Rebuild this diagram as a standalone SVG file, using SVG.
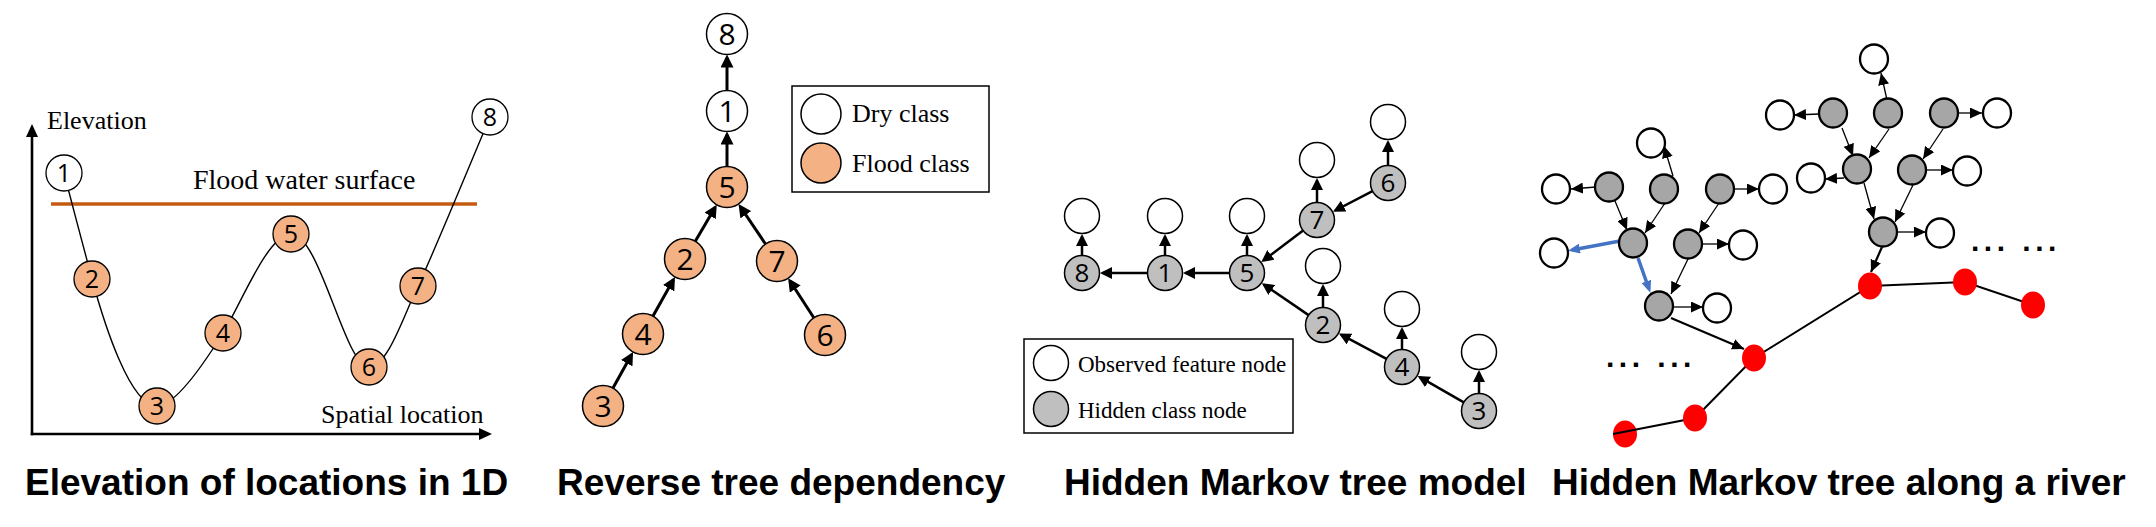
<svg xmlns="http://www.w3.org/2000/svg" width="2156" height="527" viewBox="0 0 2156 527">
<style>
.ser{font-family:"Liberation Serif","Times New Roman",serif;fill:#000}
.num{font-family:"Open Sans","Noto Sans","Liberation Sans",sans-serif;text-anchor:middle;fill:#000}
.title{font-family:"Liberation Sans",Arial,sans-serif;font-weight:bold;font-size:37px;fill:#000}
.o1{fill:#F4B183;stroke:#000;stroke-width:1.3}
.w1{fill:#fff;stroke:#000;stroke-width:1.3}
.o2{fill:#F4B183;stroke:#000;stroke-width:1.5}
.w2{fill:#fff;stroke:#000;stroke-width:1.5}
.g3{fill:#BFBFBF;stroke:#000;stroke-width:1.5}
.w3{fill:#fff;stroke:#000;stroke-width:1.5}
.g4{fill:#A6A6A6;stroke:#000;stroke-width:2.3}
.w4{fill:#fff;stroke:#000;stroke-width:2.3}
.red{fill:#FF0000}
.curve{fill:none;stroke:#000;stroke-width:1.4}
.axis{stroke:#000;stroke-width:2.6;marker-end:url(#ahx)}
.e2{stroke:#000;stroke-width:3;marker-end:url(#ah2)}
.e3{stroke:#000;stroke-width:2.5;marker-end:url(#ah3)}
.e4{stroke:#000;stroke-width:1.3;marker-end:url(#ah4)}
.e4t{stroke:#000;stroke-width:2.2;marker-end:url(#ah4)}
.eb{stroke:#4472C4;stroke-width:3.5;marker-end:url(#ahb)}
.river{fill:none;stroke:#000;stroke-width:2}
.dots{font-family:"Liberation Sans",Arial,sans-serif;font-weight:bold;font-size:30px;letter-spacing:4.5px;fill:#000}
</style>
<defs>
<marker id="ahx" markerUnits="userSpaceOnUse" markerWidth="13" markerHeight="12" refX="8" refY="6" orient="auto"><path d="M0,0 L13,6 L0,12 z" fill="#000"/></marker>
<marker id="ah2" markerUnits="userSpaceOnUse" markerWidth="13" markerHeight="13" refX="10" refY="6.5" orient="auto"><path d="M0,0 L13,6.5 L0,13 z" fill="#000"/></marker>
<marker id="ah3" markerUnits="userSpaceOnUse" markerWidth="12" markerHeight="12" refX="9.5" refY="6" orient="auto"><path d="M0,0 L12,6 L0,12 z" fill="#000"/></marker>
<marker id="ah4" markerUnits="userSpaceOnUse" markerWidth="12" markerHeight="11" refX="12" refY="5.5" orient="auto"><path d="M0,0 L12,5.5 L0,11 z" fill="#000"/></marker>
<marker id="ahb" markerUnits="userSpaceOnUse" markerWidth="12" markerHeight="10" refX="8" refY="5" orient="auto"><path d="M0,0 L12,5 L0,10 z" fill="#4472C4"/></marker>
</defs>
<rect width="2156" height="527" fill="#fff"/>

<!-- Panel 1 static shapes -->
<g id="p1-axes">
<line class="axis" x1="32" y1="435.3" x2="32" y2="129"/>
<line class="axis" x1="30.7" y1="434" x2="487" y2="434"/>
<line x1="51" y1="204" x2="477" y2="204" stroke="#C55A11" stroke-width="3.3"/>
<text class="ser" x="47" y="129" font-size="26">Elevation</text>
<text class="ser" x="193" y="189" font-size="28">Flood water surface</text>
<text class="ser" x="321" y="423" font-size="26">Spatial location</text>
</g>

<!-- Panel 4 node under river line -->
<g id="p4-r6"><ellipse class="red" cx="1625" cy="434" rx="12" ry="13.5"/></g>

<g id="connectors">
<path class="curve" d="M64,173 C73,208 83,245 92,279 C104,323 130,406 157,406 C176,406 205,362 223,333 C241,304 268,234 291,234 C320,234 345,367 369,367 C388,367 405,312 418,286 C432,257 476,150 490,117"/>
<line class="e2" x1="727" y1="90.5" x2="727" y2="57.5"/>
<line class="e2" x1="727" y1="166.5" x2="727" y2="134.5"/>
<line class="e2" x1="695.3" y1="241.3" x2="715.2" y2="207.3"/>
<line class="e2" x1="765.5" y1="244" x2="740.2" y2="206.5"/>
<line class="e2" x1="653" y1="316.1" x2="673.5" y2="279.5"/>
<line class="e2" x1="613" y1="388.1" x2="631.6" y2="354.5"/>
<line class="e2" x1="813.8" y1="317.8" x2="789.8" y2="280.7"/>
<line class="e3" x1="1082" y1="255.5" x2="1082" y2="236.5"/>
<line class="e3" x1="1165" y1="255.5" x2="1165" y2="236.5"/>
<line class="e3" x1="1247" y1="255.5" x2="1247" y2="236.5"/>
<line class="e3" x1="1317" y1="202.5" x2="1317" y2="180.5"/>
<line class="e3" x1="1388" y1="165.5" x2="1388" y2="142.5"/>
<line class="e3" x1="1323" y1="307.5" x2="1323" y2="286.5"/>
<line class="e3" x1="1402" y1="349.5" x2="1402" y2="329.5"/>
<line class="e3" x1="1479" y1="393.5" x2="1479" y2="372.5"/>
<line class="e3" x1="1147.5" y1="273" x2="1102.5" y2="273"/>
<line class="e3" x1="1229.5" y1="273" x2="1185.5" y2="273"/>
<line class="e3" x1="1303.1" y1="230.6" x2="1263.3" y2="260.6"/>
<line class="e3" x1="1372.5" y1="191.1" x2="1335.2" y2="210.5"/>
<line class="e3" x1="1308.6" y1="315.1" x2="1263.9" y2="284.6"/>
<line class="e3" x1="1386.5" y1="358.8" x2="1341.1" y2="334.6"/>
<line class="e3" x1="1463.8" y1="402.3" x2="1419.8" y2="377.2"/>
<line class="e4" x1="1596" y1="187" x2="1571" y2="189"/>
<line class="e4" x1="1673" y1="176" x2="1664" y2="146"/>
<line class="e4" x1="1734" y1="189" x2="1759" y2="189"/>
<line class="e4" x1="1615" y1="201" x2="1627" y2="230"/>
<line class="e4" x1="1665" y1="203" x2="1645" y2="233"/>
<line class="e4" x1="1719" y1="203" x2="1699" y2="233"/>
<line class="eb" x1="1620" y1="241" x2="1572" y2="250"/>
<line class="eb" x1="1638" y1="258" x2="1649" y2="289"/>
<line class="e4" x1="1688" y1="259" x2="1671" y2="294"/>
<line class="e4" x1="1702" y1="244" x2="1729" y2="244"/>
<line class="e4" x1="1673" y1="307" x2="1703" y2="307"/>
<line class="e4t" x1="1671" y1="318" x2="1744" y2="349"/>
<line class="e4" x1="1819" y1="114" x2="1794" y2="115"/>
<line class="e4" x1="1887" y1="100" x2="1881" y2="73"/>
<line class="e4" x1="1958" y1="113" x2="1982" y2="113"/>
<line class="e4" x1="1842" y1="128" x2="1853" y2="156"/>
<line class="e4" x1="1889" y1="129" x2="1869" y2="158"/>
<line class="e4" x1="1943" y1="129" x2="1923" y2="159"/>
<line class="e4" x1="1844" y1="178" x2="1825" y2="179"/>
<line class="e4" x1="1926" y1="170" x2="1953" y2="170"/>
<line class="e4" x1="1864" y1="183" x2="1874" y2="219"/>
<line class="e4" x1="1913" y1="185" x2="1895" y2="222"/>
<line class="e4" x1="1897" y1="232" x2="1926" y2="232"/>
<line class="e4t" x1="1882" y1="247" x2="1871" y2="272"/>
<polyline class="river" points="1613,434 1695,418 1754,358 1870,286 1965,282 2033,305"/>
</g>

<g id="p1-n1"><circle class="w1" cx="64" cy="173" r="18"/><text class="num" x="64" y="182" font-size="25">1</text></g>
<g id="p1-n2"><circle class="o1" cx="92" cy="279" r="18"/><text class="num" x="92" y="288" font-size="25">2</text></g>
<g id="p1-n3"><circle class="o1" cx="157" cy="406" r="18"/><text class="num" x="157" y="415" font-size="25">3</text></g>
<g id="p1-n4"><circle class="o1" cx="223" cy="333" r="18"/><text class="num" x="223" y="342" font-size="25">4</text></g>
<g id="p1-n5"><circle class="o1" cx="291" cy="234" r="18"/><text class="num" x="291" y="243" font-size="25">5</text></g>
<g id="p1-n6"><circle class="o1" cx="369" cy="367" r="18"/><text class="num" x="369" y="376" font-size="25">6</text></g>
<g id="p1-n7"><circle class="o1" cx="418" cy="286" r="18"/><text class="num" x="418" y="295" font-size="25">7</text></g>
<g id="p1-n8"><circle class="w1" cx="490" cy="117" r="18"/><text class="num" x="490" y="126" font-size="25">8</text></g>

<g id="p2-n8"><circle class="w2" cx="727" cy="34" r="20.5"/><text class="num" x="727" y="44.7" font-size="30">8</text></g>
<g id="p2-n1"><circle class="w2" cx="727" cy="111" r="20.5"/><text class="num" x="727" y="121.7" font-size="30">1</text></g>
<g id="p2-n5"><circle class="o2" cx="727" cy="187" r="20.5"/><text class="num" x="727" y="197.7" font-size="30">5</text></g>
<g id="p2-n2"><circle class="o2" cx="685" cy="259" r="20.5"/><text class="num" x="685" y="269.7" font-size="30">2</text></g>
<g id="p2-n7"><circle class="o2" cx="777" cy="261" r="20.5"/><text class="num" x="777" y="271.7" font-size="30">7</text></g>
<g id="p2-n4"><circle class="o2" cx="643" cy="334" r="20.5"/><text class="num" x="643" y="344.7" font-size="30">4</text></g>
<g id="p2-n3"><circle class="o2" cx="603" cy="406" r="20.5"/><text class="num" x="603" y="416.7" font-size="30">3</text></g>
<g id="p2-n6"><circle class="o2" cx="825" cy="335" r="20.5"/><text class="num" x="825" y="345.7" font-size="30">6</text></g>
<g id="p2-legend">
<rect x="792" y="86" width="197" height="106" fill="none" stroke="#000" stroke-width="1.5"/>
<circle class="w2" cx="821" cy="114" r="20"/>
<circle class="o2" cx="821" cy="163" r="20"/>
<text class="ser" x="852" y="122" font-size="26">Dry class</text>
<text class="ser" x="852" y="172" font-size="26">Flood class</text>
</g>

<g id="p3-h8"><circle class="g3" cx="1082" cy="273" r="17.5"/><text class="num" x="1082" y="282.3" font-size="26">8</text></g>
<g id="p3-h1"><circle class="g3" cx="1165" cy="273" r="17.5"/><text class="num" x="1165" y="282.3" font-size="26">1</text></g>
<g id="p3-h5"><circle class="g3" cx="1247" cy="273" r="17.5"/><text class="num" x="1247" y="282.3" font-size="26">5</text></g>
<g id="p3-h7"><circle class="g3" cx="1317" cy="220" r="17.5"/><text class="num" x="1317" y="229.3" font-size="26">7</text></g>
<g id="p3-h6"><circle class="g3" cx="1388" cy="183" r="17.5"/><text class="num" x="1388" y="192.3" font-size="26">6</text></g>
<g id="p3-h2"><circle class="g3" cx="1323" cy="325" r="17.5"/><text class="num" x="1323" y="334.3" font-size="26">2</text></g>
<g id="p3-h4"><circle class="g3" cx="1402" cy="367" r="17.5"/><text class="num" x="1402" y="376.3" font-size="26">4</text></g>
<g id="p3-h3"><circle class="g3" cx="1479" cy="411" r="17.5"/><text class="num" x="1479" y="420.3" font-size="26">3</text></g>
<g id="p3-o8"><circle class="w3" cx="1082" cy="216" r="17.5"/></g>
<g id="p3-o1"><circle class="w3" cx="1165" cy="216" r="17.5"/></g>
<g id="p3-o5"><circle class="w3" cx="1247" cy="216" r="17.5"/></g>
<g id="p3-o7"><circle class="w3" cx="1317" cy="160" r="17.5"/></g>
<g id="p3-o6"><circle class="w3" cx="1388" cy="122" r="17.5"/></g>
<g id="p3-o2"><circle class="w3" cx="1323" cy="266" r="17.5"/></g>
<g id="p3-o4"><circle class="w3" cx="1402" cy="309" r="17.5"/></g>
<g id="p3-o3"><circle class="w3" cx="1479" cy="352" r="17.5"/></g>
<g id="p3-legend">
<rect x="1024" y="339" width="269" height="94" fill="none" stroke="#000" stroke-width="1.5"/>
<circle class="w3" cx="1051" cy="363" r="17.5"/>
<circle class="g3" cx="1051" cy="409" r="17.5"/>
<text class="ser" x="1078" y="372" font-size="23">Observed feature node</text>
<text class="ser" x="1078" y="418" font-size="23">Hidden class node</text>
</g>

<g id="p4-wa"><ellipse class="w4" cx="1556" cy="189" rx="14" ry="14.5"/></g>
<g id="p4-ga"><ellipse class="g4" cx="1609" cy="187" rx="14" ry="14.5"/></g>
<g id="p4-gb"><ellipse class="g4" cx="1664" cy="189" rx="14" ry="14.5"/></g>
<g id="p4-wb"><ellipse class="w4" cx="1651" cy="143" rx="14" ry="14.5"/></g>
<g id="p4-gc"><ellipse class="g4" cx="1720" cy="189" rx="14" ry="14.5"/></g>
<g id="p4-wc"><ellipse class="w4" cx="1773" cy="189" rx="14" ry="14.5"/></g>
<g id="p4-gd"><ellipse class="g4" cx="1633" cy="243" rx="14" ry="14.5"/></g>
<g id="p4-wd"><ellipse class="w4" cx="1554" cy="253" rx="14" ry="14.5"/></g>
<g id="p4-ge"><ellipse class="g4" cx="1688" cy="244" rx="14" ry="14.5"/></g>
<g id="p4-we"><ellipse class="w4" cx="1743" cy="245" rx="14" ry="14.5"/></g>
<g id="p4-gf"><ellipse class="g4" cx="1659" cy="306" rx="14" ry="14.5"/></g>
<g id="p4-wf"><ellipse class="w4" cx="1717" cy="308" rx="14" ry="14.5"/></g>
<g id="p4-wg"><ellipse class="w4" cx="1780" cy="115" rx="14" ry="14.5"/></g>
<g id="p4-gg"><ellipse class="g4" cx="1833" cy="113" rx="14" ry="14.5"/></g>
<g id="p4-gh"><ellipse class="g4" cx="1888" cy="113" rx="14" ry="14.5"/></g>
<g id="p4-wh"><ellipse class="w4" cx="1874" cy="59" rx="14" ry="14.5"/></g>
<g id="p4-gi"><ellipse class="g4" cx="1944" cy="113" rx="14" ry="14.5"/></g>
<g id="p4-wi"><ellipse class="w4" cx="1997" cy="113" rx="14" ry="14.5"/></g>
<g id="p4-gj"><ellipse class="g4" cx="1857" cy="169" rx="14" ry="14.5"/></g>
<g id="p4-wj"><ellipse class="w4" cx="1811" cy="178" rx="14" ry="14.5"/></g>
<g id="p4-gk"><ellipse class="g4" cx="1912" cy="170" rx="14" ry="14.5"/></g>
<g id="p4-wk"><ellipse class="w4" cx="1967" cy="171" rx="14" ry="14.5"/></g>
<g id="p4-gl"><ellipse class="g4" cx="1883" cy="232" rx="14" ry="14.5"/></g>
<g id="p4-wl"><ellipse class="w4" cx="1940" cy="233" rx="14" ry="14.5"/></g>
<g id="p4-r1"><ellipse class="red" cx="1870" cy="286" rx="12" ry="13.5"/></g>
<g id="p4-r2"><ellipse class="red" cx="1965" cy="282" rx="12" ry="13.5"/></g>
<g id="p4-r3"><ellipse class="red" cx="2033" cy="305" rx="12" ry="13.5"/></g>
<g id="p4-r4"><ellipse class="red" cx="1754" cy="358" rx="12" ry="13.5"/></g>
<g id="p4-r5"><ellipse class="red" cx="1695" cy="418" rx="12" ry="13.5"/></g>
<text class="dots" x="1606" y="367">... ...</text>
<text class="dots" x="1971" y="251">... ...</text>

<text class="title" x="25" y="495">Elevation of locations in 1D</text>
<text class="title" x="557" y="495">Reverse tree dependency</text>
<text class="title" x="1064" y="495">Hidden Markov tree model</text>
<text class="title" x="1552" y="495">Hidden Markov tree along a river</text>
</svg>
